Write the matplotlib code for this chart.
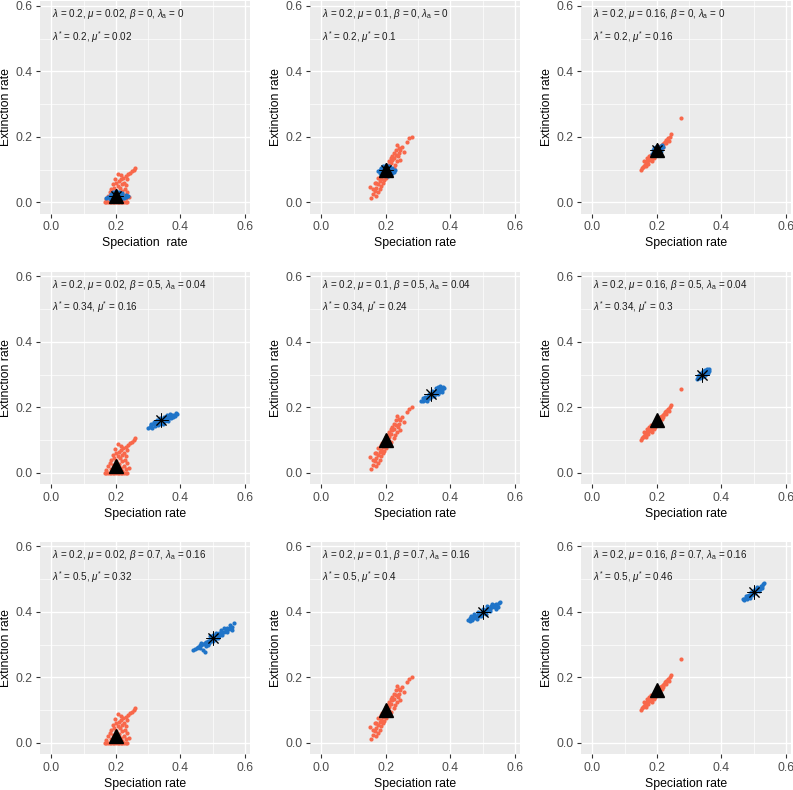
import matplotlib
matplotlib.use("Agg")
import matplotlib.pyplot as plt
from matplotlib.ticker import MultipleLocator

plt.rcParams['font.family'] = ['Liberation Sans', 'DejaVu Sans']
plt.rcParams['mathtext.fontset'] = 'custom'
plt.rcParams['mathtext.rm'] = 'Liberation Sans'
plt.rcParams['mathtext.it'] = 'Liberation Sans:italic'

# ---------------- data ----------------
lam = 0.2
mu_vals = [0.02, 0.1, 0.16]          # columns
beta_vals = [0, 0.5, 0.7]            # rows
lam_a_vals = [0, 0.04, 0.16]         # rows
lam_star = [[0.2, 0.2, 0.2], [0.34, 0.34, 0.34], [0.5, 0.5, 0.5]]
mu_star = [[0.02, 0.1, 0.16], [0.16, 0.24, 0.3], [0.32, 0.4, 0.46]]

# red estimates (one cloud per mu value, same in every row)
red_x_c1 = [0.165, 0.17, 0.175, 0.18, 0.185, 0.19, 0.195, 0.2, 0.205, 0.21, 0.215, 0.22, 0.225, 0.23, 0.235,
            0.26, 0.255, 0.25, 0.238, 0.205, 0.23, 0.222, 0.215, 0.235, 0.21, 0.225, 0.2, 0.19, 0.218, 0.232,
            0.205, 0.195, 0.212, 0.228, 0.185, 0.2, 0.22, 0.235, 0.18, 0.21, 0.19, 0.225, 0.175, 0.2, 0.215,
            0.185, 0.23, 0.17, 0.205, 0.195, 0.22, 0.24, 0.245, 0.215, 0.198]
red_y_c1 = [0, 0, 0, 0, 0, 0, 0, 0, 0, 0, 0, 0, 0, 0, 0,
            0.105, 0.1, 0.095, 0.085, 0.088, 0.08, 0.075, 0.07, 0.07, 0.065, 0.06, 0.06, 0.055, 0.055, 0.052,
            0.05, 0.045, 0.045, 0.04, 0.04, 0.035, 0.035, 0.03, 0.03, 0.028, 0.025, 0.022, 0.02, 0.018, 0.015,
            0.012, 0.012, 0.01, 0.008, 0.005, 0.005, 0.015, 0.09, 0.082, 0.072]

red_x_c2 = [0.28, 0.27, 0.265, 0.25, 0.235, 0.245, 0.255, 0.24, 0.23, 0.238, 0.225, 0.245, 0.22, 0.235, 0.215,
            0.228, 0.21, 0.225, 0.205, 0.215, 0.195, 0.21, 0.19, 0.2, 0.185, 0.195, 0.18, 0.19, 0.175, 0.185,
            0.17, 0.18, 0.165, 0.175, 0.16, 0.17, 0.155, 0.15, 0.165, 0.2, 0.21, 0.22, 0.23, 0.24, 0.175,
            0.185, 0.195, 0.205, 0.215, 0.225, 0.16, 0.17, 0.188]
red_y_c2 = [0.2, 0.195, 0.185, 0.17, 0.175, 0.16, 0.155, 0.15, 0.145, 0.14, 0.135, 0.13, 0.13, 0.125, 0.12,
            0.115, 0.11, 0.105, 0.1, 0.095, 0.09, 0.085, 0.08, 0.075, 0.07, 0.068, 0.065, 0.06, 0.055, 0.05,
            0.045, 0.04, 0.035, 0.03, 0.025, 0.02, 0.012, 0.048, 0.06, 0.11, 0.125, 0.14, 0.16, 0.165, 0.075,
            0.085, 0.095, 0.115, 0.135, 0.15, 0.04, 0.06, 0.092]

red_x_c3 = [0.276, 0.245, 0.24, 0.235, 0.232, 0.228, 0.225, 0.222, 0.218, 0.215, 0.212, 0.21, 0.205, 0.2, 0.198,
            0.195, 0.19, 0.188, 0.185, 0.182, 0.178, 0.175, 0.172, 0.17, 0.168, 0.165, 0.162, 0.16, 0.158, 0.155,
            0.15, 0.165, 0.172, 0.18, 0.185, 0.19, 0.195, 0.2, 0.21, 0.215, 0.22, 0.228, 0.175, 0.17, 0.16,
            0.2, 0.208, 0.19, 0.182, 0.238]
red_y_c3 = [0.257, 0.208, 0.2, 0.195, 0.19, 0.19, 0.185, 0.18, 0.178, 0.175, 0.17, 0.165, 0.16, 0.158, 0.155,
            0.15, 0.145, 0.14, 0.14, 0.135, 0.132, 0.13, 0.128, 0.125, 0.12, 0.12, 0.115, 0.112, 0.108, 0.105,
            0.1, 0.11, 0.118, 0.128, 0.125, 0.135, 0.14, 0.145, 0.155, 0.165, 0.17, 0.18, 0.14, 0.135, 0.125,
            0.165, 0.172, 0.15, 0.145, 0.188]

# blue estimates, one cloud per panel
blue_x_r1c1 = [0.175, 0.18, 0.185, 0.19, 0.2, 0.21, 0.22, 0.23, 0.235, 0.225, 0.215, 0.205, 0.195, 0.185, 0.2,
               0.19, 0.21, 0.22, 0.2, 0.21, 0.18, 0.23, 0.195, 0.215, 0.17, 0.238]
blue_y_r1c1 = [0.015, 0.02, 0.025, 0.03, 0.035, 0.03, 0.028, 0.022, 0.018, 0.012, 0.01, 0.008, 0.01, 0.012, 0.02,
               0.018, 0.02, 0.02, 0.028, 0.012, 0.01, 0.015, 0.025, 0.025, 0.012, 0.02]
blue_x_r1c2 = [0.175, 0.18, 0.185, 0.19, 0.2, 0.21, 0.22, 0.228, 0.225, 0.215, 0.205, 0.195, 0.185, 0.2, 0.21,
               0.19, 0.205, 0.215, 0.195, 0.22, 0.18, 0.2, 0.21, 0.185]
blue_y_r1c2 = [0.095, 0.1, 0.105, 0.11, 0.115, 0.112, 0.105, 0.1, 0.092, 0.085, 0.08, 0.082, 0.088, 0.1, 0.095,
               0.095, 0.105, 0.1, 0.105, 0.09, 0.09, 0.088, 0.105, 0.098]
blue_x_r1c3 = [0.185, 0.188, 0.19, 0.193, 0.196, 0.2, 0.204, 0.208, 0.212, 0.216, 0.218, 0.214, 0.21, 0.206, 0.202,
               0.198, 0.194, 0.19, 0.2, 0.205, 0.195, 0.21, 0.188, 0.213, 0.2, 0.197, 0.207, 0.192]
blue_y_r1c3 = [0.148, 0.152, 0.156, 0.16, 0.163, 0.166, 0.168, 0.17, 0.172, 0.176, 0.168, 0.164, 0.16, 0.157, 0.154,
               0.15, 0.147, 0.143, 0.158, 0.162, 0.155, 0.166, 0.16, 0.158, 0.172, 0.168, 0.152, 0.165]
blue_x_r2c1 = [0.3, 0.305, 0.31, 0.312, 0.315, 0.32, 0.322, 0.325, 0.33, 0.332, 0.335, 0.34, 0.342, 0.345, 0.35,
               0.352, 0.355, 0.36, 0.362, 0.365, 0.37, 0.372, 0.375, 0.38, 0.385, 0.39, 0.378, 0.318, 0.328, 0.338,
               0.348, 0.358, 0.368, 0.308, 0.33, 0.345, 0.36, 0.383]
blue_y_r2c1 = [0.138, 0.14, 0.145, 0.138, 0.148, 0.15, 0.143, 0.152, 0.155, 0.148, 0.158, 0.16, 0.153, 0.163, 0.165,
               0.158, 0.168, 0.17, 0.163, 0.172, 0.175, 0.168, 0.177, 0.178, 0.182, 0.18, 0.172, 0.156, 0.162, 0.167,
               0.172, 0.176, 0.18, 0.15, 0.145, 0.15, 0.158, 0.175]
blue_x_r2c2 = [0.31, 0.315, 0.318, 0.322, 0.325, 0.328, 0.33, 0.333, 0.336, 0.34, 0.343, 0.346, 0.35, 0.353, 0.356,
               0.36, 0.363, 0.366, 0.37, 0.373, 0.376, 0.38, 0.32, 0.332, 0.344, 0.356, 0.368, 0.326, 0.338, 0.35,
               0.362, 0.374, 0.315, 0.36]
blue_y_r2c2 = [0.22, 0.218, 0.226, 0.222, 0.23, 0.226, 0.234, 0.23, 0.238, 0.24, 0.236, 0.244, 0.246, 0.241, 0.25,
               0.252, 0.247, 0.256, 0.258, 0.252, 0.262, 0.26, 0.232, 0.242, 0.25, 0.258, 0.264, 0.22, 0.228, 0.236,
               0.242, 0.248, 0.228, 0.262]
blue_x_r2c3 = [0.325, 0.328, 0.331, 0.334, 0.337, 0.34, 0.343, 0.346, 0.349, 0.352, 0.355, 0.358, 0.362, 0.33, 0.336,
               0.342, 0.348, 0.354, 0.333, 0.339, 0.345, 0.351, 0.357, 0.328, 0.35, 0.344, 0.336, 0.36]
blue_y_r2c3 = [0.288, 0.291, 0.294, 0.297, 0.299, 0.3, 0.303, 0.305, 0.308, 0.31, 0.313, 0.315, 0.317, 0.298, 0.304,
               0.308, 0.313, 0.316, 0.289, 0.293, 0.297, 0.302, 0.306, 0.296, 0.298, 0.31, 0.292, 0.31]
blue_x_r3c1 = [0.44, 0.445, 0.45, 0.455, 0.46, 0.465, 0.47, 0.475, 0.48, 0.478, 0.485, 0.49, 0.488, 0.495, 0.5,
               0.505, 0.51, 0.508, 0.515, 0.52, 0.525, 0.53, 0.535, 0.54, 0.545, 0.55, 0.555, 0.56, 0.565, 0.56,
               0.47, 0.475, 0.48, 0.495, 0.5, 0.51, 0.52, 0.53, 0.46, 0.485, 0.535, 0.545, 0.465, 0.49, 0.5,
               0.515, 0.525, 0.555]
blue_y_r3c1 = [0.285, 0.287, 0.29, 0.293, 0.3, 0.298, 0.302, 0.305, 0.308, 0.3, 0.312, 0.315, 0.305, 0.318, 0.322,
               0.325, 0.328, 0.318, 0.33, 0.335, 0.332, 0.34, 0.338, 0.345, 0.35, 0.348, 0.352, 0.355, 0.365, 0.345,
               0.285, 0.278, 0.295, 0.31, 0.312, 0.335, 0.325, 0.33, 0.29, 0.298, 0.35, 0.34, 0.305, 0.325, 0.33,
               0.32, 0.345, 0.36]
blue_x_r3c2 = [0.455, 0.46, 0.462, 0.467, 0.47, 0.474, 0.477, 0.48, 0.484, 0.488, 0.49, 0.494, 0.497, 0.5, 0.503,
               0.506, 0.51, 0.513, 0.517, 0.52, 0.524, 0.527, 0.53, 0.534, 0.538, 0.541, 0.545, 0.55, 0.555, 0.548,
               0.472, 0.486, 0.5, 0.514, 0.528, 0.465, 0.482, 0.496, 0.51, 0.524, 0.54]
blue_y_r3c2 = [0.375, 0.372, 0.38, 0.376, 0.385, 0.38, 0.388, 0.384, 0.392, 0.388, 0.396, 0.392, 0.4, 0.4, 0.396,
               0.405, 0.402, 0.41, 0.406, 0.413, 0.41, 0.418, 0.414, 0.42, 0.416, 0.424, 0.42, 0.426, 0.43, 0.415,
               0.392, 0.4, 0.41, 0.418, 0.425, 0.388, 0.378, 0.386, 0.394, 0.402, 0.41]
blue_x_r3c3 = [0.466, 0.47, 0.475, 0.478, 0.482, 0.486, 0.49, 0.494, 0.498, 0.502, 0.506, 0.51, 0.514, 0.518, 0.522,
               0.526, 0.53, 0.532, 0.48, 0.485, 0.495, 0.505, 0.515, 0.52, 0.475, 0.49, 0.5, 0.51, 0.47, 0.525,
               0.488, 0.508]
blue_y_r3c3 = [0.438, 0.44, 0.443, 0.447, 0.45, 0.452, 0.455, 0.458, 0.46, 0.463, 0.466, 0.468, 0.472, 0.474, 0.478,
               0.48, 0.484, 0.487, 0.44, 0.445, 0.452, 0.458, 0.465, 0.47, 0.45, 0.462, 0.468, 0.475, 0.435, 0.472,
               0.443, 0.47]

red_x = [red_x_c1, red_x_c2, red_x_c3]
red_y = [red_y_c1, red_y_c2, red_y_c3]
blue_x = [[blue_x_r1c1, blue_x_r1c2, blue_x_r1c3],
          [blue_x_r2c1, blue_x_r2c2, blue_x_r2c3],
          [blue_x_r3c1, blue_x_r3c2, blue_x_r3c3]]
blue_y = [[blue_y_r1c1, blue_y_r1c2, blue_y_r1c3],
          [blue_y_r2c1, blue_y_r2c2, blue_y_r2c3],
          [blue_y_r3c1, blue_y_r3c2, blue_y_r3c3]]

tick_vals = [0.0, 0.2, 0.4, 0.6]
tick_labels = ["0.0", "0.2", "0.4", "0.6"]

# ---------------- figure ----------------
W, H = 793, 790
fig = plt.figure(figsize=(W / 100, H / 100), dpi=100)

col_left = [40, 310, 581]
row_top = [1, 271.5, 541.5]
pw, ph = 210, 212.6

RED = '#F8684B'
BLUE = '#1F74C8'
BG = '#EBEBEB'

def fmt(v):
    return ('%g' % v)

for r in range(3):
    for c in range(3):
        ax = fig.add_axes([col_left[c] / W, 1 - (row_top[r] + ph) / H, pw / W, ph / H])
        ax.set_facecolor(BG)
        for s in ax.spines.values():
            s.set_visible(False)
        ax.set_xlim(-0.0355, 0.6155)
        ax.set_ylim(-0.0345, 0.615)
        ax.set_xticks(tick_vals)
        ax.set_xticklabels(tick_labels)
        ax.set_yticks(tick_vals)
        ax.set_yticklabels(tick_labels)
        ax.xaxis.set_minor_locator(MultipleLocator(0.1))
        ax.yaxis.set_minor_locator(MultipleLocator(0.1))
        ax.grid(True, which='major', color='white', linewidth=1.0)
        ax.grid(True, which='minor', color='white', linewidth=0.5)
        ax.set_axisbelow(True)
        ax.tick_params(which='major', length=3, width=0.8, color='#333333',
                       labelsize=8.8, labelcolor='#4D4D4D', pad=2.5)
        ax.tick_params(which='minor', length=0)

        ax.scatter(red_x[c], red_y[c], s=9, color=RED, linewidths=0, zorder=3)
        ax.scatter(blue_x[r][c], blue_y[r][c], s=9, color=BLUE, linewidths=0, zorder=4)
        ax.plot([lam_star[r][c]], [mu_star[r][c]], linestyle='none', marker=(8, 2, 0),
                markersize=10, markeredgewidth=0.7, color='black', zorder=5)
        ax.plot([lam], [mu_vals[c]], linestyle='none', marker='^', markersize=9.5,
                color='black', zorder=6)

        line1 = (r'$\lambda$ = ' + fmt(lam) + r', $\mu$ = ' + fmt(mu_vals[c]) +
                 r', $\beta$ = ' + fmt(beta_vals[r]) + r', $\lambda_{\mathrm{a}}$ = ' + fmt(lam_a_vals[r]))
        line2 = (r'$\lambda^{*}$ = ' + fmt(lam_star[r][c]) + r', $\mu^{*}$ = ' + fmt(mu_star[r][c]))
        ax.text(0.002, 0.575, line1, fontsize=7.1, color='#1a1a1a', ha='left', va='center')
        ax.text(0.002, 0.505, line2, fontsize=7.1, color='#1a1a1a', ha='left', va='center')

        xl = 'Speciation  rate' if (r == 0 and c == 0) else 'Speciation rate'
        ax.set_xlabel(xl, fontsize=8.8, color='black')
        ax.set_ylabel('Extinction rate', fontsize=8.8, color='black')
        ax.xaxis.set_label_coords(0.5, -0.112)
        ax.yaxis.set_label_coords(-0.131, 0.5)
        ax.xaxis.label.set_va('top')

fig.savefig('out.png', dpi=100, facecolor='white')
